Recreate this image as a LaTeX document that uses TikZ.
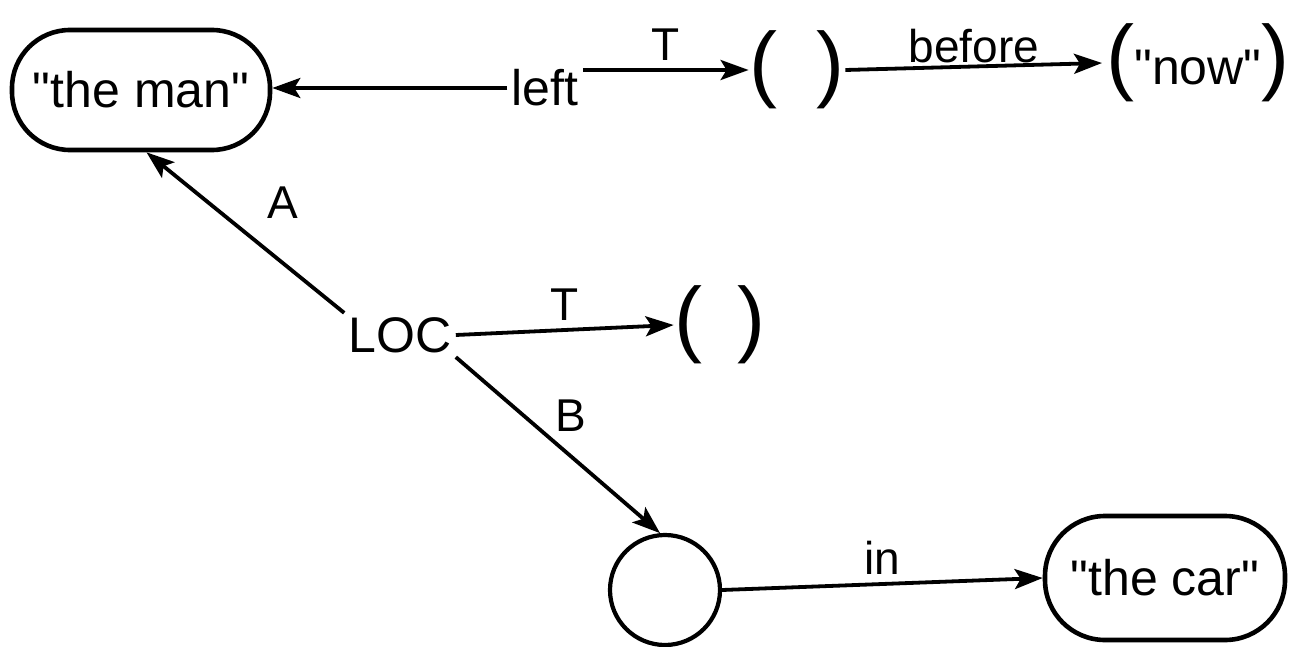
\documentclass[tikz,border=0pt]{standalone}
\usepackage{fontspec}
\setmainfont{Liberation Sans}[Ligatures=TeXOff]
\usetikzlibrary{arrows.meta}
\begin{document}
\begin{tikzpicture}[x=0.5pt,y=-0.5pt,
  every node/.style={font=\fontsize{25}{29}\selectfont, inner sep=2pt},
  obj/.style={draw, line width=2.3pt, rounded corners=29pt, minimum width=129pt, minimum height=60pt},
  circ/.style={draw, circle, line width=2.1pt, minimum size=55pt, inner sep=0pt},
  par/.style={font=\fontsize{42}{42}\selectfont, inner sep=0pt},
  arr/.style={line width=1.9pt, -{Stealth[length=14pt, width=10pt, inset=3pt]}},
  lbl/.style={font=\fontsize{23}{27}\selectfont}
]
\useasboundingbox (0,0) rectangle (1290,647);
\node[obj] (man) at (141,90) {"the man"};
\node (left) at (545,88) {left};
\node[par] (p1) at (797,70) {(\hspace{20pt})};
\node (now) at (1198,63) {{\fontsize{42}{42}\selectfont(}"now"{\fontsize{42}{42}\selectfont)}};
\node (loc) at (400,335) {LOC};
\node[par] (p2) at (720,325) {(\hspace{18pt})};
\node[circ] (c) at (665,590) {};
\node[obj, minimum width=120pt, minimum height=62pt, rounded corners=30pt] (car) at (1165,578) {"the car"};

\draw[arr] (left.west) -- (left.west -| man.east);
\draw[arr] (left.east |- p1.west) -- node[lbl, above=2pt] {T} (p1.west);
\draw[arr] (p1.east) -- node[lbl, above=-1pt] {before} (now.west);
\draw[arr] (loc.north west) -- node[lbl, above right, xshift=8pt, yshift=4pt] {A} (man.-85);
\draw[arr] (loc.east) -- node[lbl, above=2pt] {T} (p2.west);
\draw[arr] (loc.south east) -- node[lbl, above right, xshift=-4pt, yshift=4pt] {B} (c.95);
\draw[arr] (c.east) -- node[lbl, above=2pt] {in} (car.west);
\end{tikzpicture}
\end{document}
